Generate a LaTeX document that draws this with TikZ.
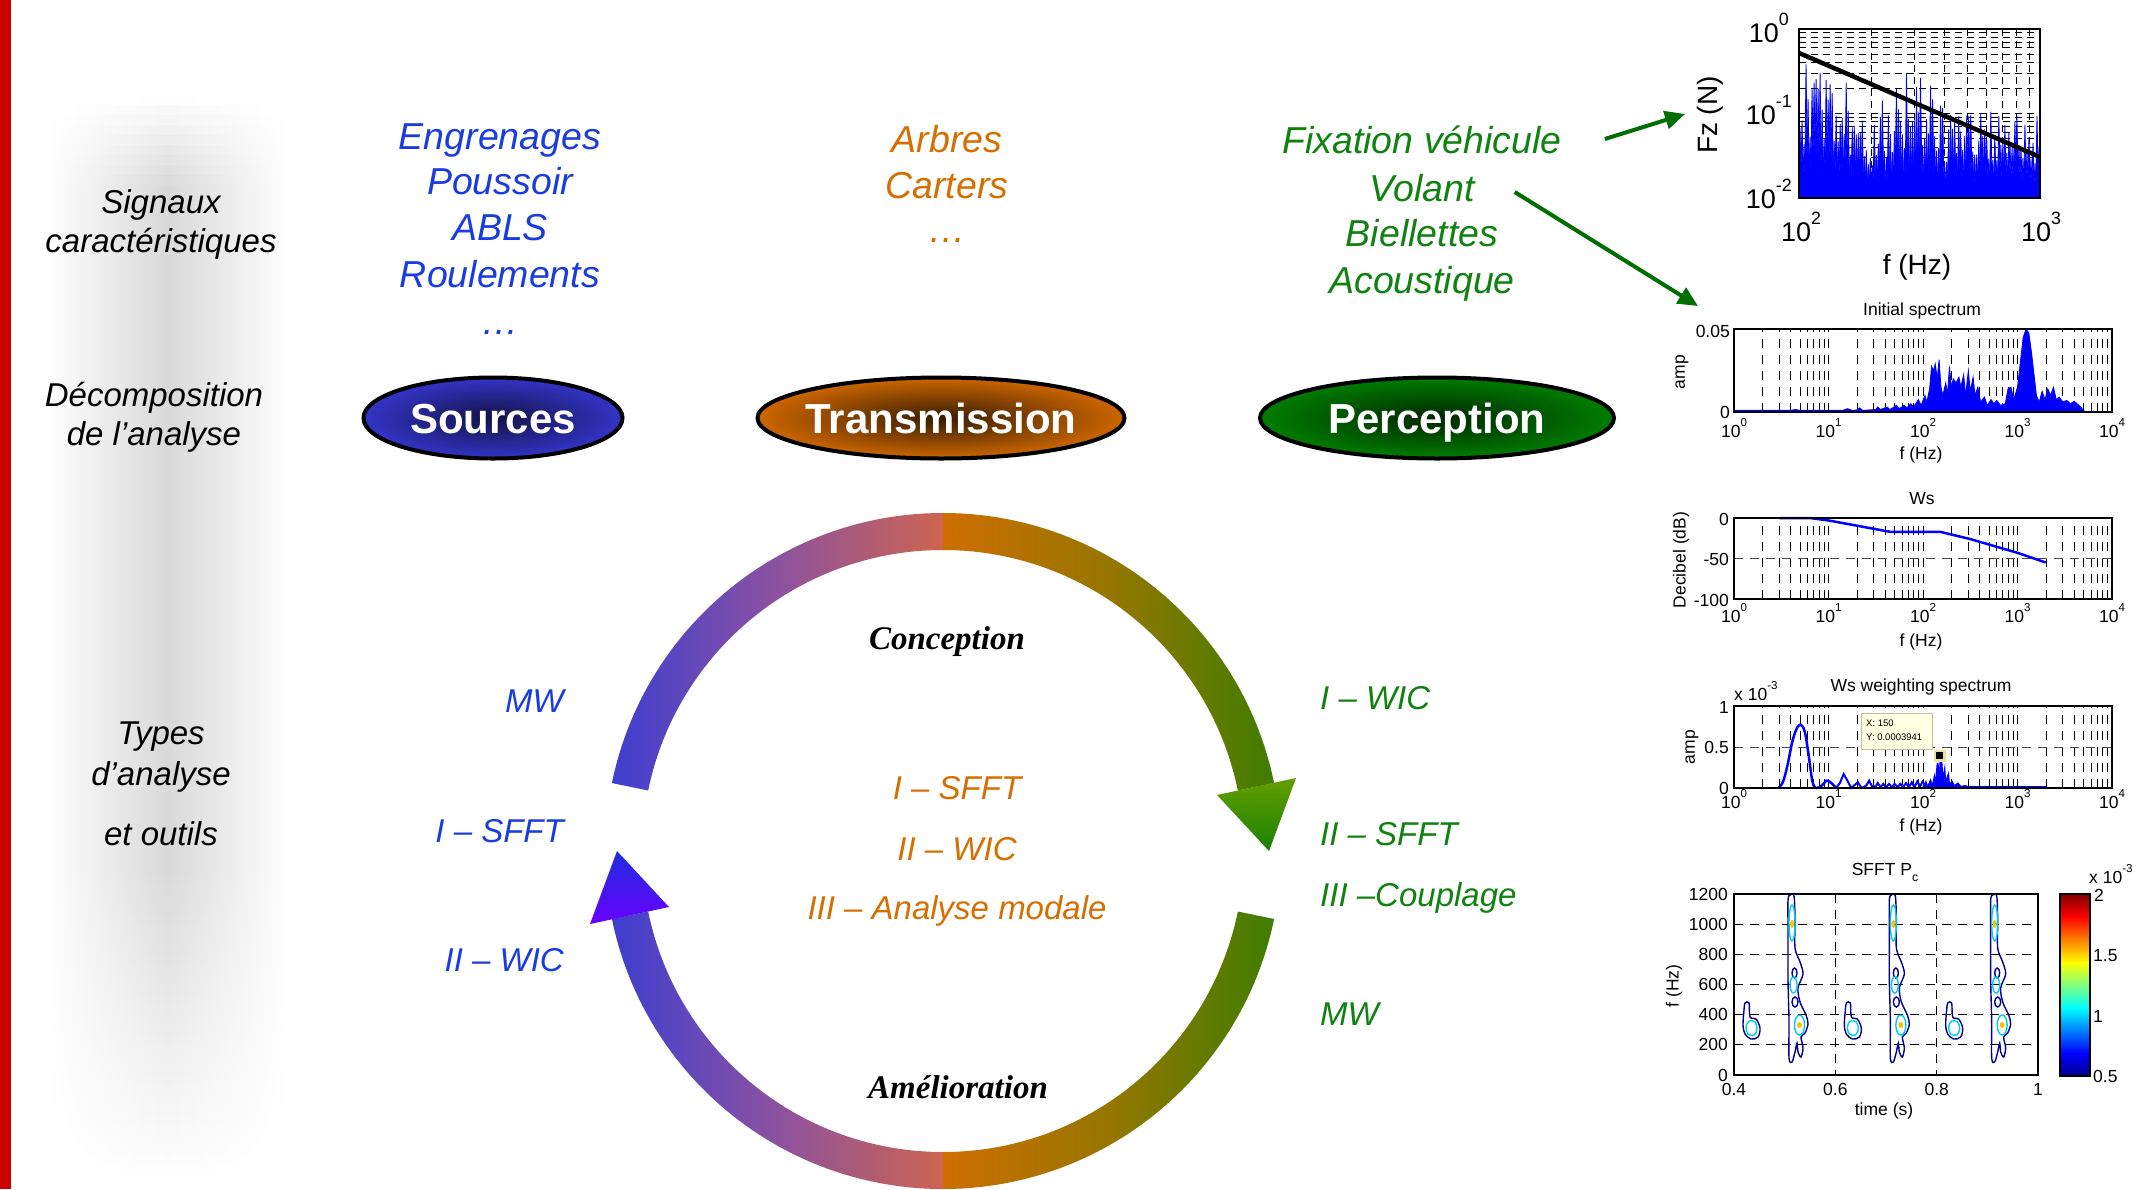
\documentclass[tikz,border=0pt]{standalone}
\usepackage{fontspec}
\setmainfont{Liberation Sans}
\newfontfamily\serifbi{Liberation Serif}
\usepackage{graphicx}
\usetikzlibrary{shapes.geometric,arrows.meta,calc}
\definecolor{cblue}{RGB}{25,60,225}
\definecolor{corange}{RGB}{214,110,0}
\definecolor{cgreen}{RGB}{15,130,15}
\definecolor{redbar}{RGB}{204,0,0}
\definecolor{sOut}{RGB}{52,52,200}
\definecolor{sIn}{RGB}{18,18,70}
\definecolor{tOut}{RGB}{205,102,0}
\definecolor{tIn}{RGB}{55,28,0}
\definecolor{pOut}{RGB}{0,125,0}
\definecolor{pIn}{RGB}{0,38,0}
\definecolor{rL}{RGB}{62,62,208}
\definecolor{rLm}{RGB}{140,82,160}
\definecolor{rLr}{RGB}{206,100,80}
\definecolor{rRl}{RGB}{206,110,0}
\definecolor{rRm}{RGB}{150,118,0}
\definecolor{rR}{RGB}{62,125,0}
\definecolor{ahRT}{RGB}{100,158,0}
\definecolor{ahRB}{RGB}{25,130,0}
\definecolor{ahLT}{RGB}{30,45,222}
\definecolor{ahLB}{RGB}{105,0,255}
\definecolor{arrg}{RGB}{0,110,0}
\definecolor{mblue}{RGB}{0,0,255}
\definecolor{tipfill}{RGB}{255,255,225}
\definecolor{tipedge}{RGB}{190,190,160}
\definecolor{mkedge}{RGB}{235,225,160}
\definecolor{jdb}{RGB}{0,0,143}
\definecolor{jb}{RGB}{0,0,255}
\definecolor{jc}{RGB}{0,255,255}
\definecolor{jy}{RGB}{255,255,0}
\definecolor{jr}{RGB}{255,0,0}
\definecolor{jdr}{RGB}{128,0,0}
\definecolor{cdb}{RGB}{0,0,140}
\definecolor{ccyc}{RGB}{0,205,235}
\definecolor{cyo}{RGB}{250,195,0}
\newcommand\ex[1]{\raisebox{0.62em}{\scalebox{0.66}{#1}}}
\newcommand\tenx[1]{10\ex{#1}}
\newcommand\zb[1]{\raisebox{-0.36em}[0pt][0pt]{\makebox[0pt]{#1}}}
\newcommand\ringsec[2]{($(943,851)+(#1:338)$) arc[start angle=#1,end angle=#2,radius=338] -- ($(943,851)+(#2:301)$) arc[start angle=#2,end angle=#1,radius=301] -- cycle}
\begin{document}
\begin{tikzpicture}[x=1pt,y=-1pt,
  blab/.style={font=\fontsize{33}{39}\selectfont\itshape, align=center, inner sep=0pt},
  blab2/.style={font=\fontsize{33}{41}\selectfont\itshape, align=center, inner sep=0pt},
  lab/.style={font=\fontsize{33}{39}\selectfont\itshape, inner sep=0pt},
  ctext/.style={font=\fontsize{37.5}{45}\selectfont\itshape, inner sep=0pt},
  ell/.style={ellipse, draw=black, line width=4pt, minimum height=81pt, inner sep=0pt, text=white, font=\fontsize{42}{50}\selectfont\bfseries},
  cyc/.style={font=\fontsize{33}{39}\selectfont\serifbi\bfseries\itshape, inner sep=0pt},
  tk/.style={font=\fontsize{17.5}{20}\selectfont, inner sep=0pt},
  tk1/.style={font=\fontsize{27}{30}\selectfont, inner sep=0pt},
  tipt/.style={font=\fontsize{9.5}{11}\selectfont, inner sep=0pt},
  gridv/.style={black, line width=0.9pt, dash pattern=on 9pt off 7pt},
  gridh/.style={black!70, line width=0.9pt, dash pattern=on 9pt off 7pt},
  grid1/.style={black, line width=0.9pt, dash pattern=on 7pt off 5pt},
  box/.style={black, line width=1.6pt},
  garrow/.style={arrg, line width=4pt, -{Triangle[length=20pt,width=18pt]}},
  spec/.style={mblue, fill=mblue, line width=0.8pt},
  cdk/.style={cdb, line width=1.4pt},
  ccyan/.style={ccyc, line width=1.4pt}]
\useasboundingbox (0,0) rectangle (2152,1189);
\fill[white] (0,0) rectangle (2152,1189);
% ---------- left panel
\foreach \i in {0,...,108}{
  \pgfmathsetmacro\yy{95+\i*10}
  \pgfmathsetmacro\pp{15*min(1,(\yy-95)/90+0.05)*min(1,(1185-\yy)/320)}
  \shade[left color=white,right color=white,middle color=black!\pp] (45,\yy) rectangle (290,\yy+10.6);
}
\fill[redbar] (0,0) rectangle (11,1189);
\node[blab] (sig) at (161,224) {Signaux\\caractéristiques};
\node[blab] (dec) at (154,417) {Décomposition\\de l’analyse};
\node[blab2] (typ) at (161,757.5) {Types\\d’analyse};
\node[lab] (out) at (161,834) {et outils};
% ---------- top columns
\node[ctext,text=cblue] (s1) at (500,140) {Engrenages};
\node[ctext,text=cblue] (s2) at (500,181) {Poussoir};
\node[ctext,text=cblue] (s3) at (500,228) {ABLS};
\node[ctext,text=cblue] (s4) at (500,274) {Roulements};
\node[ctext,text=cblue] (s5) at (500,332) {…};
\node[ctext,text=corange] (t1) at (947,139) {Arbres};
\node[ctext,text=corange] (t2) at (947,186) {Carters};
\node[ctext,text=corange] (t3) at (947,240) {…};
\node[ctext,text=cgreen] (fix) at (1422,140) {Fixation véhicule};
\node[ctext,text=cgreen] (vol) at (1422,188) {Volant};
\node[ctext,text=cgreen] (bie) at (1422,233) {Biellettes};
\node[ctext,text=cgreen] (aco) at (1422,284) {Acoustique};
% ---------- ellipses
\node[ell, minimum width=259pt, inner color=sIn, outer color=sOut] (src) at (493,418) {\zb{Sources}};
\node[ell, minimum width=367pt, inner color=tIn, outer color=tOut] (trn) at (941,418) {\zb{Transmission}};
\node[ell, minimum width=354pt, inner color=pIn, outer color=pOut] (per) at (1437,418) {\zb{Perception}};
% ---------- cycle
\shade[left color=rL, right color=rLr, middle color=rLm] \ringsec{-168.4}{-90};
\shade[left color=rL, right color=rLr, middle color=rLm] \ringsec{90}{168.4};
\shade[left color=rRl, right color=rR, middle color=rRm] \ringsec{-90}{-11.6};
\shade[left color=rRl, right color=rR, middle color=rRm] \ringsec{11.6}{90};
\shade[top color=ahRT, bottom color=ahRB] (1217,795) -- (1296,778) -- (1269,851) -- cycle;
\shade[top color=ahLT, bottom color=ahLB] (669,907) -- (590,924) -- (617,851) -- cycle;
\node[cyc] (con) at (947,642) {Conception};
\node[cyc] (ame) at (958,1087) {Amélioration};
\node[lab,text=corange] (c1) at (957,788) {I – SFFT};
\node[lab,text=corange] (c2) at (957,849) {II – WIC};
\node[lab,text=corange] (c3) at (957,911) {III – Analyse modale};
\node[lab,text=cblue,anchor=east] (l1) at (564,701) {MW};
\node[lab,text=cblue,anchor=east] (l2) at (564,831) {I – SFFT};
\node[lab,text=cblue,anchor=east] (l3) at (564,960) {II – WIC};
\node[lab,text=cgreen,anchor=west] (r1) at (1320,698) {I – WIC};
\node[lab,text=cgreen,anchor=west] (r2) at (1320,834) {II – SFFT};
\node[lab,text=cgreen,anchor=west] (r3) at (1320,898) {III –Couplage};
\node[lab,text=cgreen,anchor=west] (r4) at (1320,1014) {MW};
% ---------- arrows to plots
\path (fix.east) ++(43,-1) coordinate (a1s);
\coordinate (a1e) at (1685,114);
\path (vol.east) ++(40,4) coordinate (a2s);
\coordinate (a2e) at (1698,306);
\draw[garrow] (a1s) -- (a1e);
\draw[garrow] (a2s) -- (a2e);
% ---------- plot 1
\foreach \k in {2,...,9}{\draw[grid1] ({1799+ln(\k)/ln(10)*241},29) -- ({1799+ln(\k)/ln(10)*241},198);}
\foreach \d in {0,1}{\foreach \k in {1,...,9}{\draw[grid1] (1799,{198-(\d+ln(\k)/ln(10))*84.5}) -- (2040,{198-(\d+ln(\k)/ln(10))*84.5});}}
\pgfmathsetseed{42}
\foreach \a/\ha/\hb in {0/138/133,0.1/133/123,0.2/123/88,0.3/88/128,0.4/128/123,0.5/123/98,0.6/98/83,0.7/83/93,0.8/93/83,0.9/83/88}{
  \foreach \j in {0,...,11}{
    \pgfmathsetmacro\xa{1799+(\a+\j/120)*241}
    \pgfmathsetmacro\hh{(\ha+(\hb-\ha)*\j/12)*(0.35+0.65*rnd)}
    \filldraw[spec] ({max(1799.5,\xa-0.5)},198) -- ({\xa+1},{198-\hh}) -- ({min(2039.5,\xa+2.6)},198) -- cycle;
  }
}
\draw[black,line width=4.5pt] (1799,53) -- (2040,157);
\draw[box] (1799,29) rectangle (2040,198);
\node[tk1,anchor=base east] (pay0) at (1789,42) {\tenx{0}};
\node[tk1,anchor=base east] (pay1) at (1792,124) {\tenx{-1}};
\node[tk1,anchor=base east] (pay2) at (1792,208) {\tenx{-2}};
\node[tk1,anchor=base] (pax2) at (1801,241) {\tenx{2}};
\node[tk1,anchor=base] (pax3) at (2041,241) {\tenx{3}};
\node[font=\fontsize{28}{30}\selectfont,inner sep=0pt] (paf) at (1917,267) {f (Hz)};
\node[font=\fontsize{28}{30}\selectfont,inner sep=0pt,rotate=90] (paz) at (1710,115) {Fz (N)};
% ---------- plot 2
\begin{scope}[shift={(1734,412)},x=94.5pt,y=83pt]
 \foreach \d in {0,...,3}{\foreach \k in {1,...,9}{\draw[gridv] ({\d+ln(\k)/ln(10)},0) -- ({\d+ln(\k)/ln(10)},1);}}
 \filldraw[mblue,line width=0.8pt] (0,0) -- (0,0.02) -- (0.6,0.02) -- (0.65,0.03) -- (0.7,0.02) -- (1.15,0.02) -- (1.2,0.04) -- (1.25,0.02) -- (1.3,0.025) -- (1.33,0.05) -- (1.36,0.02) -- (1.5,0.03) -- (1.52,0.06) -- (1.55,0.03) -- (1.62,0.06) -- (1.65,0.03) -- (1.72,0.08) -- (1.75,0.04) -- (1.8,0.08) -- (1.83,0.05) -- (1.87,0.1) -- (1.9,0.06) -- (1.95,0.15) -- (1.98,0.08) -- (2.02,0.2) -- (2.04,0.12) -- (2.07,0.28) -- (2.09,0.55) -- (2.11,0.5) -- (2.13,0.58) -- (2.15,0.4) -- (2.17,0.63) -- (2.19,0.3) -- (2.21,0.2) -- (2.24,0.35) -- (2.26,0.22) -- (2.28,0.55) -- (2.3,0.3) -- (2.32,0.4) -- (2.35,0.35) -- (2.38,0.42) -- (2.4,0.3) -- (2.43,0.45) -- (2.45,0.2) -- (2.48,0.5) -- (2.5,0.25) -- (2.53,0.42) -- (2.55,0.2) -- (2.58,0.3) -- (2.61,0.12) -- (2.65,0.18) -- (2.68,0.08) -- (2.72,0.15) -- (2.75,0.1) -- (2.78,0.14) -- (2.82,0.08) -- (2.87,0.1) -- (2.9,0.28) -- (2.93,0.3) -- (2.96,0.15) -- (3.0,0.3) -- (3.03,0.6) -- (3.06,0.9) -- (3.09,1.0) -- (3.12,0.95) -- (3.15,0.7) -- (3.18,0.4) -- (3.2,0.2) -- (3.23,0.12) -- (3.26,0.25) -- (3.29,0.15) -- (3.32,0.28) -- (3.35,0.2) -- (3.38,0.3) -- (3.41,0.15) -- (3.44,0.18) -- (3.48,0.12) -- (3.52,0.14) -- (3.56,0.1) -- (3.6,0.13) -- (3.65,0.08) -- (3.7,0.02) -- (3.72,0) -- cycle;
 \draw[mblue,line width=2.5pt] (0,0.012) -- (3.7,0.012);
 \draw[box] (0,0) rectangle (4,1);
\end{scope}
\node[tk,anchor=east] (pby1) at (1730,331) {0.05};
\node[tk,anchor=east] (pby0) at (1730,412) {0};
\foreach \d in {0,...,4}{\node[tk,anchor=base] (pbx\d) at ({1734+\d*94.5},437) {\tenx{\d}};}
\node[tk] (pbt) at (1922,311) {Initial spectrum};
\node[tk] (pbf) at (1921,455) {f (Hz)};
\node[tk,rotate=90] (pba) at (1682,372) {amp};
% ---------- plot 3
\begin{scope}[shift={(1734,518)},x=94.5pt,y=0.81pt]
 \foreach \d in {0,...,3}{\foreach \k in {1,...,9}{\draw[gridv] ({\d+ln(\k)/ln(10)},-100) -- ({\d+ln(\k)/ln(10)},0);}}
 \draw[gridh] (0,-50) -- (4,-50);
 \draw[mblue,line width=2.5pt] (0.48,0) -- (0.8,0) -- (1.0,-3) -- (1.65,-17) -- (2.18,-17) -- (2.5,-26) -- (3.0,-43) -- (3.3,-55);
 \draw[box] (0,0) rectangle (4,-100);
\end{scope}
\node[tk,anchor=east] (pcy0) at (1729,519) {0};
\node[tk,anchor=east] (pcy1) at (1729,559) {-50};
\node[tk,anchor=east] (pcy2) at (1729,600) {-100};
\foreach \d in {0,...,4}{\node[tk,anchor=base] (pcx\d) at ({1734+\d*94.5},622) {\tenx{\d}};}
\node[tk] (pct) at (1922,499) {Ws};
\node[tk] (pcf) at (1921,642) {f (Hz)};
\node[tk,rotate=90] (pca) at (1681,560) {Decibel (dB)};
% ---------- plot 4
\begin{scope}[shift={(1734,788)},x=94.5pt,y=82pt]
 \foreach \d in {0,...,3}{\foreach \k in {1,...,9}{\draw[gridv] ({\d+ln(\k)/ln(10)},0) -- ({\d+ln(\k)/ln(10)},1);}}
 \draw[gridh] (0,0.5) -- (4,0.5);
 \draw[mblue,line width=2.5pt] plot[smooth,tension=0.6] coordinates {(0.47,0) (0.52,0.08) (0.57,0.3) (0.62,0.58) (0.67,0.74) (0.71,0.77) (0.75,0.68) (0.79,0.4) (0.83,0.08) (0.87,0.0) (0.93,0.03) (0.98,0.09) (1.03,0.06) (1.08,0.0)};
 \draw[mblue,line width=2pt] (1.08,0) -- (1.12,0.06) -- (1.16,0.17) -- (1.2,0.09) -- (1.24,0.0) -- (1.28,0.04) -- (1.31,0.07) -- (1.35,0.0) -- (1.4,0.03) -- (1.43,0.09) -- (1.46,0.02) -- (1.5,0.02) -- (1.52,0.06) -- (1.55,0.01) -- (1.58,0.05) -- (1.61,0.01) -- (1.64,0.05) -- (1.67,0.01) -- (1.7,0.05) -- (1.73,0.01) -- (1.76,0.05) -- (1.79,0.01) -- (1.82,0.06) -- (1.85,0.01) -- (1.88,0.07) -- (1.91,0.01) -- (1.94,0.08) -- (1.97,0.02) -- (2.0,0.09);
 \filldraw[mblue,line width=1pt] (2.0,0) -- (2.0,0.02) -- (2.03,0.08) -- (2.05,0.02) -- (2.08,0.1) -- (2.1,0.03) -- (2.12,0.15) -- (2.13,0.05) -- (2.15,0.3) -- (2.16,0.3) -- (2.17,0.1) -- (2.18,0.32) -- (2.2,0.31) -- (2.21,0.12) -- (2.23,0.25) -- (2.24,0.08) -- (2.27,0.18) -- (2.28,0.05) -- (2.31,0.08) -- (2.33,0.03) -- (2.37,0.06) -- (2.4,0.02) -- (2.45,0.03) -- (2.5,0.0) -- cycle;
 \draw[mblue,line width=2.5pt] (2.0,0.01) -- (3.3,0.01);
 \draw[box] (0,0) rectangle (4,1);
\end{scope}
\node[tk,anchor=east] (pdy2) at (1729,707) {1};
\node[tk,anchor=east] (pdy1) at (1729,747) {0.5};
\node[tk,anchor=east] (pdy0) at (1729,788) {0};
\node[tk,anchor=base west] (pdm) at (1734,700) {x 10\ex{-3}};
\foreach \d in {0,...,4}{\node[tk,anchor=base] (pdx\d) at ({1734+\d*94.5},808) {\tenx{\d}};}
\node[tk] (pdt) at (1921,687) {Ws weighting spectrum};
\node[tk] (pdf) at (1921,827) {f (Hz)};
\node[tk,rotate=90] (pda) at (1692,747) {amp};
\draw[fill=tipfill,draw=tipedge,line width=0.8pt] (1861,713) rectangle (1932,749);
\node[tipt,anchor=west] (tipx) at (1866,723) {X: 150};
\node[tipt,anchor=west] (tipy) at (1866,737) {Y: 0.0003941};
\fill[mkedge] (1934,750) rectangle (1945.5,761.5);
\fill[black] (1936.2,752.2) rectangle (1943.3,759.3);
% ---------- plot 5
\foreach \f in {200,400,...,1000}{\draw[gridv] (1734,{1075-\f*0.15083}) -- (2038,{1075-\f*0.15083});}
\draw[gridv] (1835.3,894) -- (1835.3,1075);
\draw[gridv] (1936.7,894) -- (1936.7,1075);
\foreach \r in {0,1,2}{
\begin{scope}[xshift=\r*101.33]
  \draw[cdk] plot[smooth cycle,tension=0.55] coordinates {(1745,1003) (1749,1003) (1750,1017) (1756,1019) (1760,1028) (1758,1037) (1751,1039) (1745,1034) (1743,1025) (1744,1010)};
  \draw[ccyan] plot[smooth cycle,tension=0.6] coordinates {(1749,1021) (1755,1022) (1757,1029) (1754,1035) (1748,1034) (1746,1027)};
  \draw[cdk] plot[smooth cycle,tension=0.5] coordinates {(1790,895) (1794,896) (1795,920) (1795,948) (1800,962) (1803,974) (1798,988) (1800,1002) (1806,1015) (1808,1024) (1805,1033) (1801,1037) (1803,1048) (1801,1057) (1798,1052) (1797,1043) (1795,1052) (1792,1062) (1789,1058) (1789,1020) (1788,980) (1788,930) (1788,900)};
  \draw[cdk] (1794.5,973) ellipse [x radius=2.5,y radius=5];
  \draw[cdk] (1795,1002) ellipse [x radius=3,y radius=5];
  \draw[ccyan] (1792,923) ellipse [x radius=3,y radius=18];
  \draw[ccyan] (1793.5,985) ellipse [x radius=3.5,y radius=8];
  \draw[ccyan] (1799.5,1025) ellipse [x radius=5,y radius=10];
  \fill[cyo] (1792,924) ellipse [x radius=2,y radius=4];
  \fill[cyo] (1799.5,1025) ellipse [x radius=2.5,y radius=3];
\end{scope}}
\draw[box] (1734,894) rectangle (2038,1075);
\foreach \f in {0,200,...,1200}{\node[tk,anchor=east] (pey\f) at (1728,{1075-\f*0.15083}) {\f};}
\node[tk,anchor=base] (pex0) at (1734,1095) {0.4};
\node[tk,anchor=base] (pex1) at (1835.3,1095) {0.6};
\node[tk,anchor=base] (pex2) at (1936.7,1095) {0.8};
\node[tk,anchor=base] (pex3) at (2038,1095) {1};
\node[tk,anchor=base] (pet) at (1885,875) {SFFT P\raisebox{-0.35em}{\scalebox{0.7}{c}}};
\node[tk] (pet2) at (1884,1111) {time (s)};
\node[tk,rotate=90] (pef) at (1674,986) {f (Hz)};
\shade[top color=jdr,bottom color=jr] (2060,894) rectangle (2090,917.2);
\shade[top color=jr,bottom color=jy] (2060,916.75) rectangle (2090,962.7);
\shade[top color=jy,bottom color=jc] (2060,962.25) rectangle (2090,1008.2);
\shade[top color=jc,bottom color=jb] (2060,1007.75) rectangle (2090,1053.7);
\shade[top color=jb,bottom color=jdb] (2060,1053.25) rectangle (2090,1076);
\draw[box] (2060,894) rectangle (2090,1076);
\node[tk,anchor=west] (cb2) at (2094,895) {2};
\node[tk,anchor=west] (cb15) at (2093,956) {1.5};
\node[tk,anchor=west] (cb1) at (2093,1016) {1};
\node[tk,anchor=west] (cb05) at (2093,1076) {0.5};
\node[tk,anchor=base west] (cbm) at (2089,883) {x 10\ex{-3}};
\end{tikzpicture}
\end{document}
